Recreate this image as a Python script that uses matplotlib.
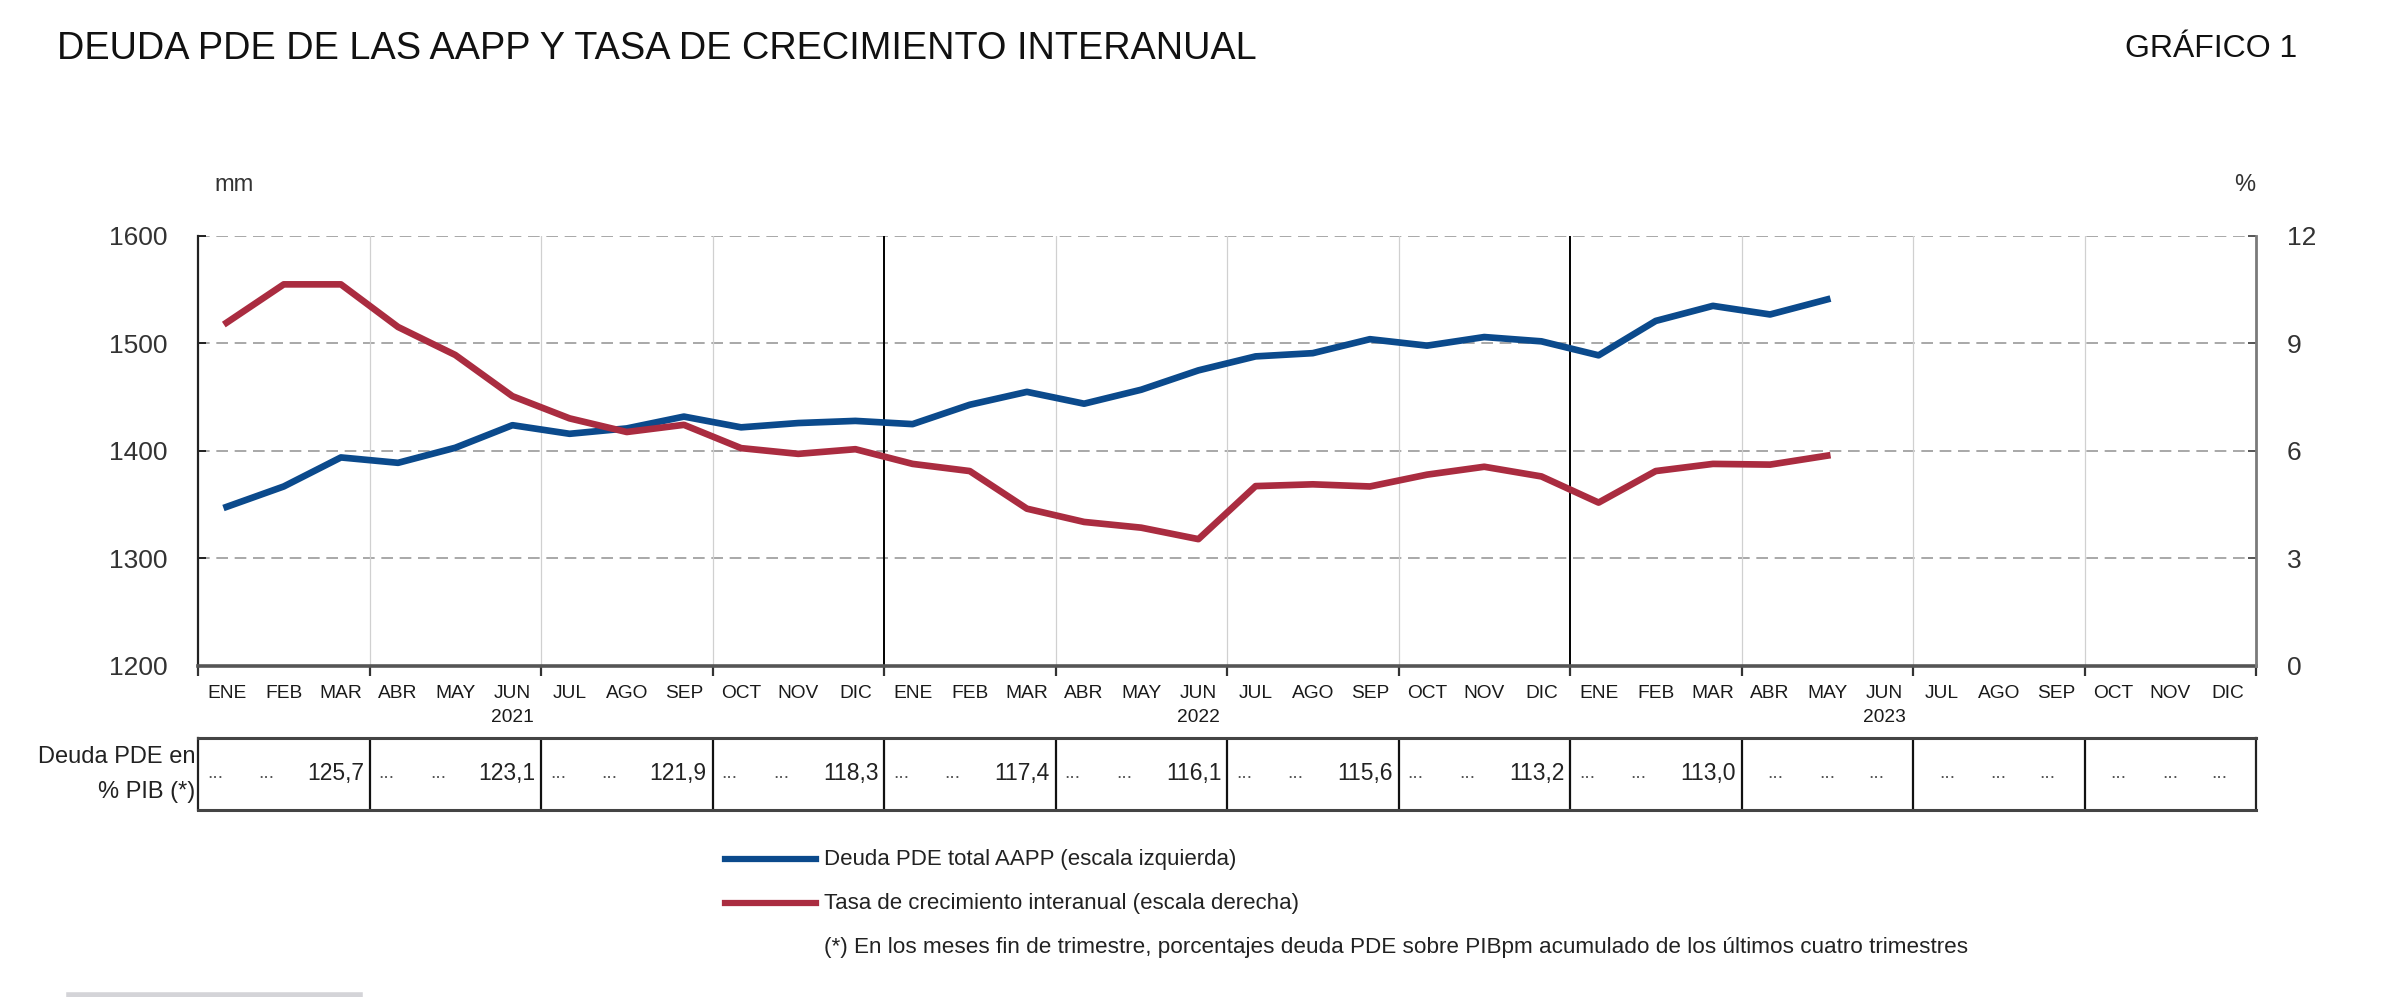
import matplotlib
matplotlib.use('Agg')
from matplotlib import pyplot as plt
from matplotlib.lines import Line2D
import matplotlib.transforms as mtransforms
import numpy as np

plt.rcParams['font.family'] = ['Liberation Sans', 'DejaVu Sans']

# datos
meses = ['ENE', 'FEB', 'MAR', 'ABR', 'MAY', 'JUN', 'JUL', 'AGO', 'SEP', 'OCT', 'NOV', 'DIC'] * 3
anios = ['2021', '2022', '2023']
deuda_mm = [1348, 1367, 1394, 1389, 1403, 1424, 1416, 1421, 1432, 1422, 1426, 1428,
            1425, 1443, 1455, 1444, 1457, 1475, 1488, 1491, 1504, 1498, 1506, 1502,
            1489, 1521, 1535, 1527, 1541]
tasa_pct = [9.58, 10.65, 10.65, 9.46, 8.68, 7.53, 6.91, 6.53, 6.73, 6.08, 5.92, 6.05,
            5.64, 5.44, 4.39, 4.02, 3.86, 3.54, 5.02, 5.07, 5.01, 5.34, 5.56, 5.29,
            4.56, 5.44, 5.64, 5.62, 5.87]
deuda_pib = ['125,7', '123,1', '121,9', '118,3', '117,4', '116,1', '115,6', '113,2', '113,0',
             None, None, None]

azul = '#0b4a8c'
rojo = '#aa2c40'

fig = plt.figure(figsize=(24, 9.97), dpi=100)
ax = fig.add_axes([0.0825, 0.332, 0.8575, 0.4313])
ax2 = ax.twinx()

n = len(meses)
x_mes = np.arange(n) + 0.5
ax.plot(x_mes[:len(deuda_mm)], deuda_mm, color=azul, lw=4.8, solid_joinstyle='round', zorder=5)
ax2.plot(x_mes[:len(tasa_pct)], tasa_pct, color=rojo, lw=4.8, solid_joinstyle='round', zorder=5)

ax.set_xlim(0, n)
ax.set_ylim(1200, 1600)
ax2.set_ylim(0, 12)
ax.set_yticks([1200, 1300, 1400, 1500, 1600])
ax2.set_yticks([0, 3, 6, 9, 12])

# rejilla
for y in [1300, 1400, 1500, 1600]:
    ax.axhline(y, color='#9a9a9a', lw=1.2, ls=(0, (7, 4)), zorder=1)
for q in range(3, n, 3):
    if q % 12 == 0:
        ax.axvline(q, color='black', lw=1.4, zorder=2)
    else:
        ax.axvline(q, color='#d0d0d0', lw=0.9, zorder=1)

# ejes
ax.spines['top'].set_visible(False)
ax2.spines['top'].set_visible(False)
ax.spines['left'].set_color('#222222')
ax.spines['left'].set_linewidth(1.6)
ax2.spines['right'].set_color('#7a7a7a')
ax2.spines['right'].set_linewidth(2)
ax.spines['bottom'].set_color('#555555')
ax.spines['bottom'].set_linewidth(2.6)
ax2.spines['bottom'].set_visible(False)
ax.spines['right'].set_visible(False)
ax2.spines['left'].set_visible(False)

ax.tick_params(axis='y', direction='in', length=6, width=1.4, labelsize=19, pad=22, colors='#222222')
ax2.tick_params(axis='y', direction='in', length=6, width=1.4, labelsize=19, pad=22, colors='#555555')
ax2.tick_params(axis='y', labelcolor='#333333')
ax.tick_params(axis='y', labelcolor='#333333')

ax.set_xticks(np.arange(0, n + 1, 3))
ax.set_xticklabels([])
ax.tick_params(axis='x', which='major', direction='out', length=7, width=1.6, color='#333333')
ax.set_xticks(x_mes, minor=True)
ax.set_xticklabels(meses, minor=True, fontsize=13.8)
ax.tick_params(axis='x', which='minor', length=0, pad=14, labelcolor='#1a1a1a')

trans = mtransforms.blended_transform_factory(ax.transData, fig.transFigure)
for i, a in enumerate(anios):
    ax.text(12 * i + 5.5, 1 - 718 / 997, a, transform=trans, ha='center', va='center',
            fontsize=13.8, color='#1a1a1a')

fig.text(234 / 2400, 1 - 185 / 997, 'mm', ha='center', va='center', fontsize=17, color='#333333')
fig.text(2245 / 2400, 1 - 185 / 997, '%', ha='center', va='center', fontsize=17, color='#333333')

# titulo
fig.text(57 / 2400, 1 - 49 / 997, 'DEUDA PDE DE LAS AAPP Y TASA DE CRECIMIENTO INTERANUAL',
         ha='left', va='center', fontsize=27.3, color='#111111')
fig.text(2297 / 2400, 1 - 49 / 997, 'GRÁFICO 1', ha='right', va='center', fontsize=23, color='#111111')

# tabla de deuda en % PIB
axt = fig.add_axes([0.0825, 0.1876, 0.8575, 0.0722])
axt.set_xlim(0, n)
axt.set_ylim(0, 1)
axt.set_xticks([])
axt.set_yticks([])
for s in ['top', 'bottom']:
    axt.spines[s].set_color('#444444')
    axt.spines[s].set_linewidth(2.2)
for s in ['left', 'right']:
    axt.spines[s].set_color('#222222')
    axt.spines[s].set_linewidth(1.6)
for q in range(3, n, 3):
    axt.axvline(q, color='#111111', lw=1.6)
for k, v in enumerate(deuda_pib):
    x0 = 3 * k
    if v is not None:
        for f in [0.3, 1.2]:
            axt.text(x0 + f, 0.5, '...', ha='center', va='center', fontsize=14, color='#555555')
        axt.text(x0 + 2.9, 0.5, v, ha='right', va='center', fontsize=16.5, color='#222222')
    else:
        for f in [0.6, 1.5, 2.35]:
            axt.text(x0 + f, 0.5, '...', ha='center', va='center', fontsize=14, color='#555555')

fig.text(195 / 2400, 1 - 757 / 997, 'Deuda PDE en', ha='right', va='center', fontsize=17, color='#222222')
fig.text(195 / 2400, 1 - 792 / 997, '% PIB (*)', ha='right', va='center', fontsize=17, color='#222222')

# leyenda
for yy, c, t in [(859, azul, 'Deuda PDE total AAPP (escala izquierda)'),
                 (903, rojo, 'Tasa de crecimiento interanual (escala derecha)')]:
    fig.add_artist(Line2D([725 / 2400, 816 / 2400], [1 - yy / 997, 1 - yy / 997], color=c, lw=4.5))
    fig.text(824 / 2400, 1 - yy / 997, t, ha='left', va='center', fontsize=16, color='#222222')
fig.text(824 / 2400, 1 - 947 / 997,
         '(*) En los meses fin de trimestre, porcentajes deuda PDE sobre PIBpm acumulado de los últimos cuatro trimestres',
         ha='left', va='center', fontsize=16.2, color='#222222')

# barra gris inferior
fig.add_artist(Line2D([69 / 2400, 360 / 2400], [1 - 995 / 997, 1 - 995 / 997], color='#d4d4d8', lw=4))

fig.savefig('out.png', dpi=100)
